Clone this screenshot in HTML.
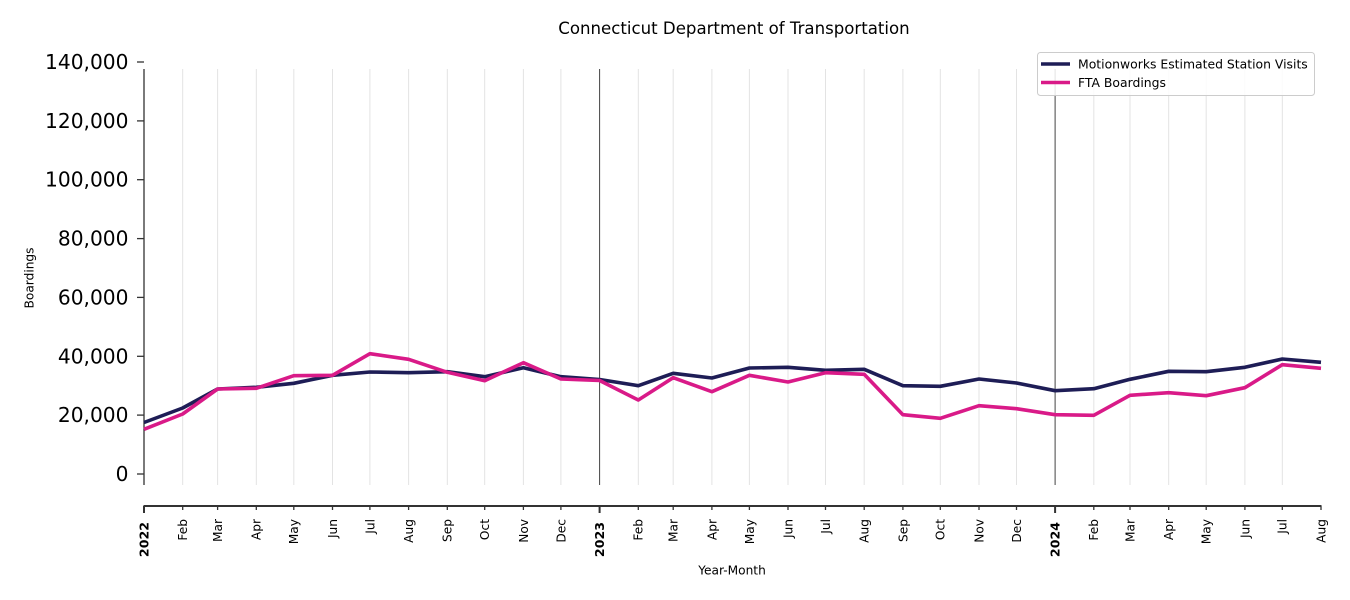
<!DOCTYPE html>
<html><head><meta charset="utf-8"><style>
html,body{margin:0;padding:0;background:#fff;}
svg{display:block;font-family:"DejaVu Sans","Liberation Sans",sans-serif;}
</style></head><body>
<svg width="1350" height="600" viewBox="0 0 1350 600" xmlns="http://www.w3.org/2000/svg">
<rect width="1350" height="600" fill="#fff"/>
<text x="734" y="34" font-size="16.6" text-anchor="middle" fill="#000">Connecticut Department of Transportation</text>
<!-- gridlines -->
<g stroke="#e3e3e3" stroke-width="1">
<line x1="182.7" y1="69" x2="182.7" y2="485"/><line x1="217.6" y1="69" x2="217.6" y2="485"/><line x1="256.3" y1="69" x2="256.3" y2="485"/><line x1="293.8" y1="69" x2="293.8" y2="485"/><line x1="332.5" y1="69" x2="332.5" y2="485"/><line x1="369.9" y1="69" x2="369.9" y2="485"/><line x1="408.6" y1="69" x2="408.6" y2="485"/><line x1="447.3" y1="69" x2="447.3" y2="485"/><line x1="484.7" y1="69" x2="484.7" y2="485"/><line x1="523.4" y1="69" x2="523.4" y2="485"/><line x1="560.9" y1="69" x2="560.9" y2="485"/>
<line x1="638.3" y1="69" x2="638.3" y2="485"/><line x1="673.2" y1="69" x2="673.2" y2="485"/><line x1="711.9" y1="69" x2="711.9" y2="485"/><line x1="749.4" y1="69" x2="749.4" y2="485"/><line x1="788" y1="69" x2="788" y2="485"/><line x1="825.5" y1="69" x2="825.5" y2="485"/><line x1="864.2" y1="69" x2="864.2" y2="485"/><line x1="902.9" y1="69" x2="902.9" y2="485"/><line x1="940.3" y1="69" x2="940.3" y2="485"/><line x1="979" y1="69" x2="979" y2="485"/><line x1="1016.5" y1="69" x2="1016.5" y2="485"/>
<line x1="1093.8" y1="69" x2="1093.8" y2="485"/><line x1="1130" y1="69" x2="1130" y2="485"/><line x1="1168.7" y1="69" x2="1168.7" y2="485"/><line x1="1206.2" y1="69" x2="1206.2" y2="485"/><line x1="1244.9" y1="69" x2="1244.9" y2="485"/><line x1="1282.3" y1="69" x2="1282.3" y2="485"/>
</g>
<!-- year lines -->
<g stroke="#444" stroke-width="1">
<line x1="599.6" y1="69" x2="599.6" y2="485"/>
<line x1="1055.1" y1="69" x2="1055.1" y2="485"/>
</g>
<!-- left spine & y ticks -->
<line x1="144" y1="69" x2="144" y2="485" stroke="#333" stroke-width="1.3"/>
<g stroke="#333" stroke-width="1.3">
<line x1="137" y1="474" x2="144" y2="474"/><line x1="137" y1="415.1" x2="144" y2="415.1"/><line x1="137" y1="356.3" x2="144" y2="356.3"/><line x1="137" y1="297.4" x2="144" y2="297.4"/><line x1="137" y1="238.6" x2="144" y2="238.6"/><line x1="137" y1="179.7" x2="144" y2="179.7"/><line x1="137" y1="120.9" x2="144" y2="120.9"/><line x1="137" y1="62" x2="144" y2="62"/>
</g>
<g font-size="20.2" text-anchor="end" fill="#000">
<text x="128.5" y="481">0</text><text x="128.5" y="422.1">20,000</text><text x="128.5" y="363.3">40,000</text><text x="128.5" y="304.4">60,000</text><text x="128.5" y="245.6">80,000</text><text x="128.5" y="186.7">100,000</text><text x="128.5" y="127.9">120,000</text><text x="128.5" y="69">140,000</text>
</g>
<text transform="translate(33.5,278) rotate(-90)" font-size="12.2" text-anchor="middle" fill="#000">Boardings</text>
<!-- x axis -->
<line x1="143.5" y1="506" x2="1321.5" y2="506" stroke="#333" stroke-width="2"/>
<g stroke="#333" stroke-width="1.3">
<line x1="182.7" y1="506" x2="182.7" y2="510"/><line x1="217.6" y1="506" x2="217.6" y2="510"/><line x1="256.3" y1="506" x2="256.3" y2="510"/><line x1="293.8" y1="506" x2="293.8" y2="510"/><line x1="332.5" y1="506" x2="332.5" y2="510"/><line x1="369.9" y1="506" x2="369.9" y2="510"/><line x1="408.6" y1="506" x2="408.6" y2="510"/><line x1="447.3" y1="506" x2="447.3" y2="510"/><line x1="484.7" y1="506" x2="484.7" y2="510"/><line x1="523.4" y1="506" x2="523.4" y2="510"/><line x1="560.9" y1="506" x2="560.9" y2="510"/>
<line x1="638.3" y1="506" x2="638.3" y2="510"/><line x1="673.2" y1="506" x2="673.2" y2="510"/><line x1="711.9" y1="506" x2="711.9" y2="510"/><line x1="749.4" y1="506" x2="749.4" y2="510"/><line x1="788" y1="506" x2="788" y2="510"/><line x1="825.5" y1="506" x2="825.5" y2="510"/><line x1="864.2" y1="506" x2="864.2" y2="510"/><line x1="902.9" y1="506" x2="902.9" y2="510"/><line x1="940.3" y1="506" x2="940.3" y2="510"/><line x1="979" y1="506" x2="979" y2="510"/><line x1="1016.5" y1="506" x2="1016.5" y2="510"/>
<line x1="1093.8" y1="506" x2="1093.8" y2="510"/><line x1="1130" y1="506" x2="1130" y2="510"/><line x1="1168.7" y1="506" x2="1168.7" y2="510"/><line x1="1206.2" y1="506" x2="1206.2" y2="510"/><line x1="1244.9" y1="506" x2="1244.9" y2="510"/><line x1="1282.3" y1="506" x2="1282.3" y2="510"/><line x1="1321" y1="506" x2="1321" y2="510"/>
</g>
<g stroke="#333" stroke-width="2">
<line x1="144" y1="506" x2="144" y2="513"/><line x1="599.6" y1="506" x2="599.6" y2="513"/><line x1="1055.1" y1="506" x2="1055.1" y2="513"/>
</g>
<g font-size="12.2" text-anchor="end" fill="#000">
<text transform="translate(187.1,519) rotate(-90)">Feb</text>
<text transform="translate(222,519) rotate(-90)">Mar</text>
<text transform="translate(260.7,519) rotate(-90)">Apr</text>
<text transform="translate(298.2,519) rotate(-90)">May</text>
<text transform="translate(336.9,519) rotate(-90)">Jun</text>
<text transform="translate(374.3,519) rotate(-90)">Jul</text>
<text transform="translate(413,519) rotate(-90)">Aug</text>
<text transform="translate(451.7,519) rotate(-90)">Sep</text>
<text transform="translate(489.1,519) rotate(-90)">Oct</text>
<text transform="translate(527.8,519) rotate(-90)">Nov</text>
<text transform="translate(565.3,519) rotate(-90)">Dec</text>
<text transform="translate(642.7,519) rotate(-90)">Feb</text>
<text transform="translate(677.6,519) rotate(-90)">Mar</text>
<text transform="translate(716.3,519) rotate(-90)">Apr</text>
<text transform="translate(753.8,519) rotate(-90)">May</text>
<text transform="translate(792.4,519) rotate(-90)">Jun</text>
<text transform="translate(829.9,519) rotate(-90)">Jul</text>
<text transform="translate(868.6,519) rotate(-90)">Aug</text>
<text transform="translate(907.3,519) rotate(-90)">Sep</text>
<text transform="translate(944.7,519) rotate(-90)">Oct</text>
<text transform="translate(983.4,519) rotate(-90)">Nov</text>
<text transform="translate(1020.9,519) rotate(-90)">Dec</text>
<text transform="translate(1098.2,519) rotate(-90)">Feb</text>
<text transform="translate(1134.4,519) rotate(-90)">Mar</text>
<text transform="translate(1173.1,519) rotate(-90)">Apr</text>
<text transform="translate(1210.6,519) rotate(-90)">May</text>
<text transform="translate(1249.3,519) rotate(-90)">Jun</text>
<text transform="translate(1286.7,519) rotate(-90)">Jul</text>
<text transform="translate(1325.4,519) rotate(-90)">Aug</text>
</g>
<g font-size="12.6" font-weight="bold" text-anchor="end" fill="#000">
<text transform="translate(148.6,522) rotate(-90)">2022</text>
<text transform="translate(604.2,522) rotate(-90)">2023</text>
<text transform="translate(1059.7,522) rotate(-90)">2024</text>
</g>
<text x="732" y="574.5" font-size="12.2" text-anchor="middle" fill="#000">Year-Month</text>
<!-- series -->
<polyline fill="none" stroke="#1e1d56" stroke-width="3.6" stroke-linejoin="round" points="144,422.5 182.7,408 217.6,389 256.3,387.3 293.8,383.3 332.5,375.3 369.9,372 408.6,372.7 447.3,371.7 484.7,376.7 523.4,367.7 560.9,376.7 599.6,379.5 638.3,385.7 673.2,373.3 711.9,378 749.4,368 788,367.3 825.5,370.3 864.2,369.3 902.9,385.7 940.3,386.3 979,379 1016.5,383 1055.1,390.7 1093.8,388.7 1130,379.3 1168.7,371.3 1206.2,371.7 1244.9,367.3 1282.3,359 1321,362.3"/>
<polyline fill="none" stroke="#d91a88" stroke-width="3.6" stroke-linejoin="round" points="144,429.3 182.7,414 217.6,389 256.3,388.3 293.8,375.7 332.5,375.3 369.9,353.7 408.6,359.3 447.3,372.3 484.7,380.7 523.4,362.7 560.9,379 599.6,380.5 638.3,400 673.2,377.7 711.9,391.7 749.4,375.3 788,382 825.5,372.7 864.2,374.3 902.9,414.7 940.3,418.3 979,405.7 1016.5,408.7 1055.1,414.7 1093.8,415.3 1130,395.3 1168.7,392.7 1206.2,395.7 1244.9,387.7 1282.3,364.7 1321,368.3"/>
<!-- legend -->
<rect x="1037.5" y="52.5" width="277" height="43" rx="3" ry="3" fill="#fff" fill-opacity="0.85" stroke="#cccccc" stroke-width="1"/>
<line x1="1041" y1="64" x2="1070" y2="64" stroke="#1e1d56" stroke-width="3.6"/>
<line x1="1041" y1="82.5" x2="1070" y2="82.5" stroke="#d91a88" stroke-width="3.6"/>
<text x="1078" y="68.3" font-size="12.4" fill="#000">Motionworks Estimated Station Visits</text>
<text x="1078" y="86.8" font-size="12.4" fill="#000">FTA Boardings</text>
</svg>
</body></html>
